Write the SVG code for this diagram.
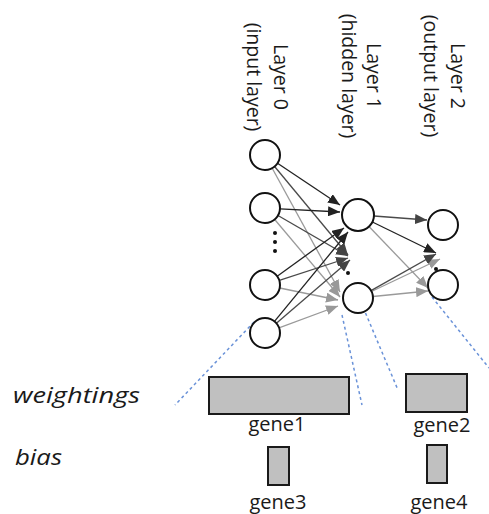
<svg xmlns="http://www.w3.org/2000/svg" width="489" height="514" viewBox="0 0 489 514">
<style>
.t{font-family:"Open Sans","Liberation Sans",sans-serif;fill:#1a1a1a}
.lab{font-size:19.5px;text-anchor:middle}
.gene{font-size:20px;text-anchor:middle}
.it{font-size:22px;font-style:italic}
.node{fill:#fff;stroke:#111;stroke-width:2}
.dot{fill:#111}
.box{fill:#c0c0c0;stroke:#1a1a1a;stroke-width:2}
.c1{stroke:#222;stroke-width:1.3;fill:none;marker-end:url(#a1)}
.c2{stroke:#4a4a4a;stroke-width:1.3;fill:none;marker-end:url(#a2)}
.c3{stroke:#9a9a9a;stroke-width:1.3;fill:none;marker-end:url(#a3)}
.dash{stroke:#6a92d8;stroke-width:1.5;stroke-dasharray:3 3;fill:none}
</style>
<defs>
<marker id="a1" markerUnits="userSpaceOnUse" markerWidth="12" markerHeight="10" refX="12" refY="5" orient="auto"><path d="M0,0 L12,5 L0,10 z" fill="#222"/></marker>
<marker id="a2" markerUnits="userSpaceOnUse" markerWidth="12" markerHeight="10" refX="12" refY="5" orient="auto"><path d="M0,0 L12,5 L0,10 z" fill="#444"/></marker>
<marker id="a3" markerUnits="userSpaceOnUse" markerWidth="12" markerHeight="10" refX="12" refY="5" orient="auto"><path d="M0,0 L12,5 L0,10 z" fill="#999"/></marker>
</defs>

<g id="labels">
<text class="t lab" transform="translate(274,77) rotate(90)"><tspan x="0" y="0">Layer 0</tspan><tspan x="0" y="27">(input layer)</tspan></text>
<text class="t lab" transform="translate(367,76) rotate(90)"><tspan x="0" y="0">Layer 1</tspan><tspan x="0" y="25">(hidden layer)</tspan></text>
<text class="t lab" transform="translate(451,76) rotate(90)"><tspan x="0" y="0">Layer 2</tspan><tspan x="0" y="27">(output layer)</tspan></text>
<text class="t it" x="13" y="403" textLength="127" lengthAdjust="spacingAndGlyphs">weightings</text>
<text class="t it" x="15" y="465" textLength="47" lengthAdjust="spacingAndGlyphs">bias</text>
</g>

<g id="connectors">
<line class="c3" x1="272.2" y1="168.2" x2="340" y2="292"/>
<line class="c3" x1="274.7" y1="219.5" x2="340" y2="297"/>
<line class="c3" x1="279.7" y1="288" x2="338" y2="300"/>
<line class="c3" x1="279" y1="327.8" x2="338" y2="306"/>
<line class="c2" x1="274.6" y1="166.5" x2="348" y2="255"/>
<line class="c2" x1="278" y1="215.5" x2="348" y2="256"/>
<line class="c2" x1="279.3" y1="280.4" x2="348" y2="258"/>
<line class="c2" x1="276.4" y1="323.2" x2="350" y2="260"/>
<line class="c1" x1="277.5" y1="163.3" x2="340" y2="205"/>
<line class="c1" x1="280" y1="208.8" x2="340" y2="212"/>
<line class="c1" x1="277.2" y1="276.2" x2="344" y2="228"/>
<line class="c1" x1="274.5" y1="321.4" x2="348" y2="232"/>
<line class="c3" x1="369" y1="226.5" x2="428" y2="288"/>
<line class="c3" x1="373" y1="296.5" x2="428" y2="291"/>
<line class="c3" x1="371.5" y1="291.5" x2="440" y2="259"/>
<line class="c2" x1="374" y1="216" x2="427" y2="220"/>
<line class="c1" x1="372.4" y1="222" x2="436" y2="253"/>
<line class="c2" x1="371" y1="290.6" x2="436" y2="254"/>
<line class="dash" x1="254" y1="322" x2="175" y2="405"/>
<line class="dash" x1="342" y1="315" x2="362" y2="405"/>
<line class="dash" x1="365.5" y1="313" x2="398" y2="390"/>
<line class="dash" x1="432" y1="297" x2="489" y2="368"/>
</g>

<g id="input-layer">
<circle class="node" cx="265" cy="155" r="15"/>
<circle class="node" cx="265" cy="208" r="15"/>
<circle class="dot" cx="275" cy="233" r="2"/>
<circle class="dot" cx="275" cy="242" r="2"/>
<circle class="dot" cx="275" cy="251" r="2"/>
<circle class="node" cx="265" cy="285" r="15"/>
<circle class="node" cx="265" cy="333" r="15"/>
</g>
<g id="hidden-layer">
<circle class="node" cx="358" cy="215" r="16"/>
<circle class="dot" cx="348" cy="273" r="2"/>
<circle class="node" cx="358" cy="298" r="15"/>
</g>
<g id="output-layer">
<circle class="node" cx="443" cy="225" r="15"/>
<circle class="dot" cx="436" cy="269" r="2"/>
<circle class="node" cx="443" cy="285" r="15"/>
</g>

<g id="gene1"><rect class="box" x="209" y="377" width="140" height="37"/><text class="t gene" x="277" y="431">gene1</text></g>
<g id="gene2"><rect class="box" x="406" y="374" width="61" height="38"/><text class="t gene" x="442" y="432">gene2</text></g>
<g id="gene3"><rect class="box" x="268" y="447" width="21" height="38"/><text class="t gene" x="278" y="509">gene3</text></g>
<g id="gene4"><rect class="box" x="427" y="445" width="20" height="38"/><text class="t gene" x="439" y="509">gene4</text></g>
</svg>
